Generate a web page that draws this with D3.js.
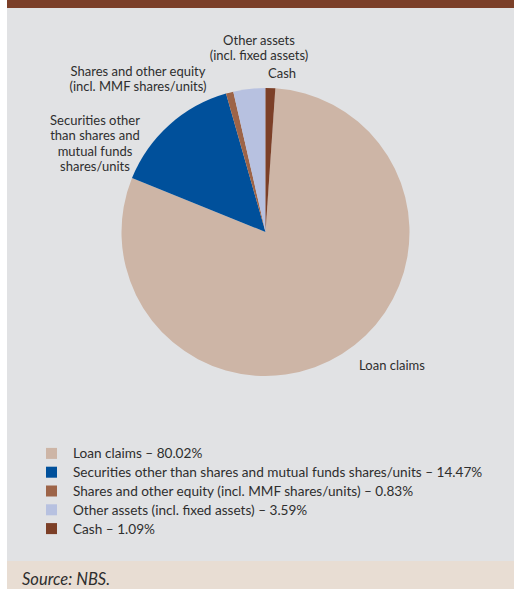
<!DOCTYPE html>
<html>
<head>
<meta charset="utf-8">
<script src="https://cdn.jsdelivr.net/npm/d3@7"></script>
<style>
  html, body { margin: 0; padding: 0; background: #ffffff; }
  svg { display: block; }
  text { font-family: Lato, "Noto Sans", sans-serif; fill: #2e2e2e; }
</style>
</head>
<body>
<svg id="chart" width="515" height="589"></svg>
<script>
// Asset structure (% of total)
const categories = [
  "Loan claims",
  "Securities other than shares and mutual funds shares/units",
  "Shares and other equity (incl. MMF shares/units)",
  "Other assets (incl. fixed assets)",
  "Cash"
];
const shares = [80.02, 14.47, 0.83, 3.59, 1.09];
const sliceColors = ["#cdb5a6", "#00509b", "#9d6448", "#b7c1e0", "#7c3f27"];
// Labels placed around the pie (line-broken)
const pieLabels = [
  ["Loan claims"],
  ["Securities other", "than shares and", "mutual funds", "shares/units"],
  ["Shares and other equity", "(incl. MMF shares/units)"],
  ["Other assets", "(incl. fixed assets)"],
  ["Cash"]
];
const sourceNote = "Source: NBS.";

const W = 515, H = 589;
const svg = d3.select("#chart");

// Panel backgrounds
svg.append("rect").attr("x", 7).attr("y", 0).attr("width", W - 8).attr("height", 8).attr("fill", "#7b3f28");
svg.append("rect").attr("x", 7).attr("y", 8).attr("width", W - 8).attr("height", 553).attr("fill", "#e1e2e4");
svg.append("rect").attr("x", 7).attr("y", 561).attr("width", W - 8).attr("height", 28).attr("fill", "#e8ddd3");

// Pie
const cx = 265.5, cy = 232, R = 144;
const data = categories.map((c, i) => ({ name: c, value: shares[i], color: sliceColors[i], label: pieLabels[i] }));
const total = d3.sum(shares);
const start = (shares[4] / total) * 2 * Math.PI; // cash sits just right of 12 o'clock
const pie = d3.pie().sort(null).value(d => d.value).startAngle(start).endAngle(start + 2 * Math.PI);
const arc = d3.arc().innerRadius(0).outerRadius(R);
const arcs = pie(data);

const g = svg.append("g").attr("transform", `translate(${cx},${cy})`);
g.selectAll("path").data(arcs).join("path")
  .attr("d", arc)
  .attr("fill", d => d.data.color);

// Slice labels
const labelPos = [
  { x: 392, y: 370 },
  { x: 95, y: 125 },
  { x: 138, y: 76 },
  { x: 259, y: 45 },
  { x: 282, y: 78 }
];
const lineH = 15.3;
arcs.forEach((a, i) => {
  const p = labelPos[i];
  const t = svg.append("text")
    .attr("x", p.x).attr("y", p.y)
    .attr("text-anchor", "middle")
    .attr("font-size", 13);
  a.data.label.forEach((line, k) => {
    t.append("tspan").attr("x", p.x).attr("y", p.y + k * lineH).text(line);
  });
});

// Legend
const legendY = d3.scaleBand().domain(categories).range([444, 538]);
const leg = svg.append("g");
const rows = leg.selectAll("g").data(data).join("g")
  .attr("transform", d => `translate(0,${legendY(d.name) + legendY.bandwidth() / 2})`);
rows.append("rect").attr("x", 46).attr("y", -5.5).attr("width", 11).attr("height", 11).attr("fill", d => d.color);
rows.append("text").attr("x", 73).attr("y", 5).attr("font-size", 13.6)
  .text(d => `${d.name} – ${d.value.toFixed(2)}%`);

// Source
svg.append("text").attr("x", 22).attr("y", 585).attr("font-size", 16.5).attr("font-style", "italic")
  .text(sourceNote);
</script>
</body>
</html>
